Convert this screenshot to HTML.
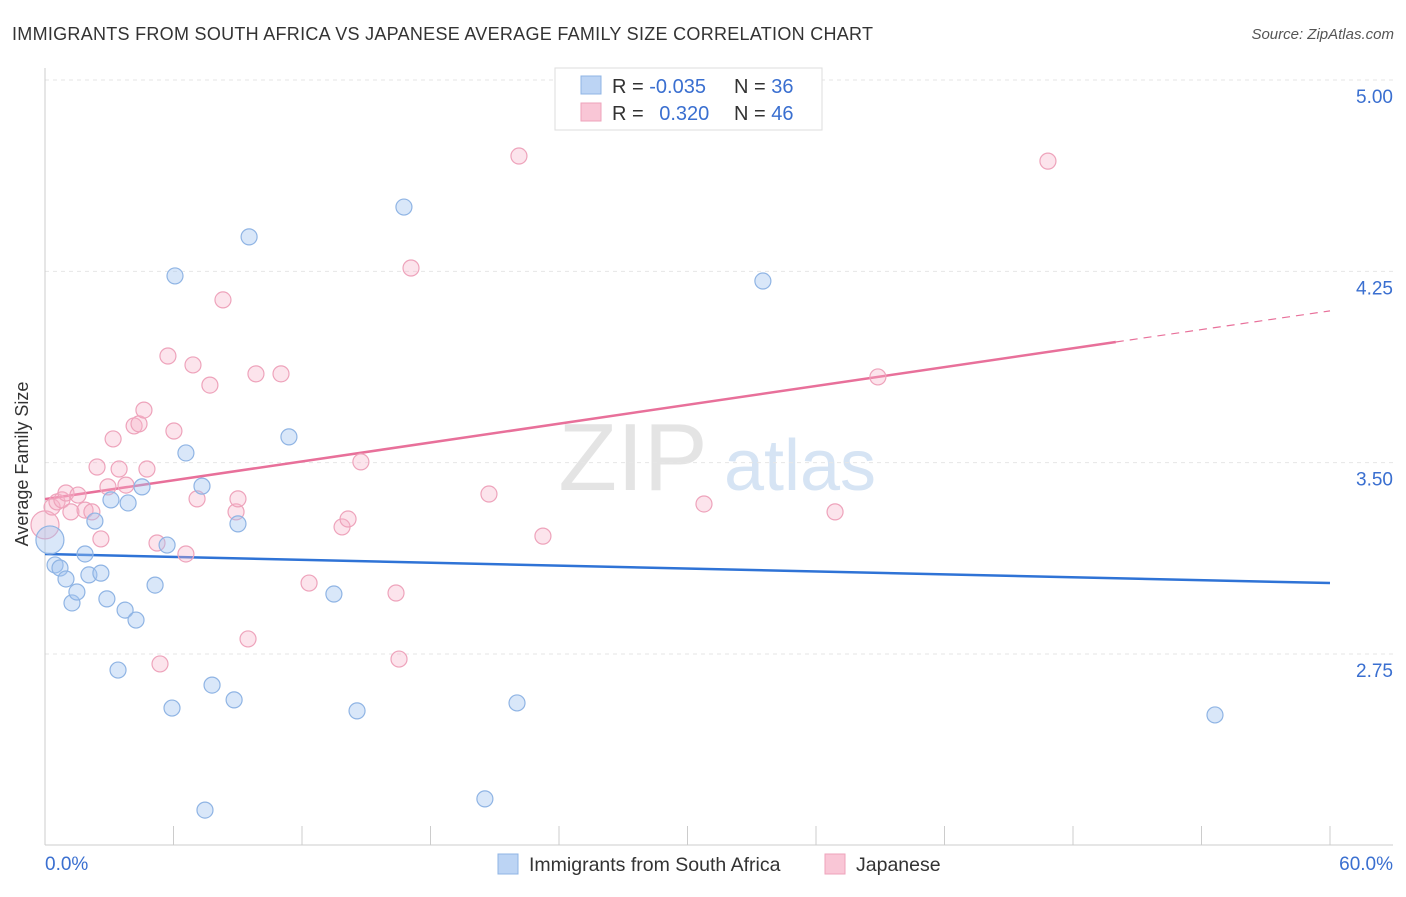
<!DOCTYPE html>
<html><head><meta charset="utf-8"><style>
body{margin:0;background:#fff;font-family:"Liberation Sans",sans-serif;}
svg text{font-family:"Liberation Sans",sans-serif;}
</style></head><body>
<svg id="chart" width="1406" height="892" xmlns="http://www.w3.org/2000/svg">
<text x="12" y="40" font-size="18" fill="#333" textLength="861">IMMIGRANTS FROM SOUTH AFRICA VS JAPANESE AVERAGE FAMILY SIZE CORRELATION CHART</text>
<text x="1394" y="39" font-size="15" fill="#555" font-style="italic" text-anchor="end">Source: ZipAtlas.com</text>
<g>
<text x="633" y="490" font-size="96" fill="#e4e4e4" font-family="Liberation Serif" text-anchor="middle">ZIP</text>
<text x="800" y="490" font-size="72" fill="#d6e4f4" text-anchor="middle">atlas</text>
</g>
<g id="grid"></g>
<g id="axes"></g>
<g id="lines"></g>
<g id="points"></g>
<text x="20" y="456" font-size="18" fill="#333" text-anchor="middle" transform="rotate(-90 28 456)">Average Family Size</text>
<g>
<rect x="555" y="68" width="267" height="62" fill="#fff" stroke="#ddd"/>
<rect x="581" y="76" width="20" height="18" fill="#bcd4f4" stroke="#8fb4e4"/>
<rect x="581" y="103" width="20" height="18" fill="#f9c6d6" stroke="#eea3bb"/>
<text x="612" y="93" font-size="20" fill="#333">R = <tspan fill="#3a6fd0">-0.035</tspan></text>
<text x="734" y="93" font-size="20" fill="#333">N = <tspan fill="#3a6fd0">36</tspan></text>
<text x="612" y="120" font-size="20" fill="#333">R = <tspan fill="#3a6fd0" dx="10">0.320</tspan></text>
<text x="734" y="120" font-size="20" fill="#333">N = <tspan fill="#3a6fd0">46</tspan></text>
</g>
<g>
<rect x="498" y="854" width="20" height="20" fill="#bcd4f4" stroke="#8fb4e4"/>
<text x="529" y="871" font-size="19.5" fill="#333">Immigrants from South Africa</text>
<rect x="825" y="854" width="20" height="20" fill="#f9c6d6" stroke="#eea3bb"/>
<text x="856" y="871" font-size="19.5" fill="#333">Japanese</text>
</g>
</svg>
<script>
const yTicks=[5.00,4.25,3.50,2.75];
const yTickLabels=["5.00","4.25","3.50","2.75"];
const xTickValues=[0,6,12,18,24,30,36,42,48,54,60];
const xLabels=["0.0%","60.0%"];
const blueX=[0.23,0.47,0.70,0.98,1.26,1.49,1.87,2.05,2.33,2.61,2.89,3.08,3.41,3.74,3.88,4.25,4.53,5.14,5.70,5.93,6.07,6.58,7.33,7.80,8.83,9.01,9.53,11.39,13.49,14.57,16.76,20.54,22.04,33.52,54.63,7.47];
const blueY=[3.197,3.099,3.087,3.044,2.950,2.993,3.142,3.060,3.271,3.067,2.966,3.354,2.687,2.922,3.342,2.883,3.405,3.020,3.177,2.538,4.232,3.538,3.408,2.628,2.570,3.260,4.385,3.601,2.985,2.527,4.502,2.182,2.558,4.212,2.511,2.138];
const pinkX=[0,0.33,0.56,0.79,0.98,1.21,1.54,1.87,2.19,2.43,2.61,2.94,3.18,3.46,3.78,4.16,4.39,4.62,4.76,5.23,5.74,6.02,6.58,6.91,7.10,7.70,8.31,8.92,9.01,9.48,9.85,11.02,12.33,13.87,14.15,14.75,16.39,16.53,17.09,20.73,22.13,23.25,30.77,36.89,38.89,46.83,5.37];
const pinkY=[3.256,3.326,3.346,3.354,3.381,3.307,3.373,3.314,3.307,3.483,3.201,3.405,3.593,3.475,3.412,3.644,3.652,3.706,3.475,3.185,3.918,3.624,3.142,3.883,3.358,3.804,4.138,3.307,3.358,2.809,3.848,3.848,3.028,3.248,3.279,3.503,2.989,2.730,4.263,3.377,4.702,3.212,3.338,3.307,3.836,4.682,2.711];
const blueTrend=[[0,3.142],[60,3.028]];
const pinkTrend=[[0,3.357],[50,3.973],[60,4.095]];
const NS="http://www.w3.org/2000/svg";
const X=v=>45+v*(1285/60);
const Y=v=>80+(5-v)*255.1;
function mk(tag,attrs,parent){const e=document.createElementNS(NS,tag);for(const k in attrs)e.setAttribute(k,attrs[k]);document.getElementById(parent).appendChild(e);return e;}
yTicks.forEach((t,i)=>{
 const g=mk('line',{x1:45,x2:1393,y1:Y(t),y2:Y(t),stroke:'#e6e6e6','stroke-dasharray':'4,4'},'grid');
 
 
 const tx=mk('text',{x:1393,y:Y(t)+23,'font-size':19,fill:'#3a6fd0','text-anchor':'end'},'axes');
 tx.textContent=yTickLabels[i];
 
 
});
const ax=mk('line',{x1:45,x2:45,y1:68,y2:845,stroke:'#ccc'},'axes');


const bx=mk('line',{x1:45,x2:1393,y1:845,y2:845,stroke:'#ccc'},'axes');


xTickValues.forEach(v=>{
 const t=mk('line',{x1:X(v),x2:X(v),y1:826,y2:845,stroke:'#ccc'},'axes');
 
 
});
const l0=mk('text',{x:45,y:870,'font-size':19,fill:'#3a6fd0'},'axes');l0.textContent=xLabels[0];


const l1=mk('text',{x:1393,y:870,'font-size':19,fill:'#3a6fd0','text-anchor':'end'},'axes');l1.textContent=xLabels[1];


function pts(xs,ys,fill,stroke,name){
 xs.forEach((x,i)=>{
  const r=(i===0)?14:8;
  const c=mk('circle',{cx:X(x),cy:Y(ys[i]),r:r,fill:fill,stroke:stroke,'stroke-width':1.2},'points');
  
  
 });
}
pts(pinkX,pinkY,'rgba(246,178,200,0.35)','#eea3bb','point-japanese');
pts(blueX,blueY,'rgba(160,196,240,0.4)','#8fb4e4','point-south-africa');
const bl=mk('line',{x1:X(blueTrend[0][0]),y1:Y(blueTrend[0][1]),x2:X(blueTrend[1][0]),y2:Y(blueTrend[1][1]),stroke:'#2f73d6','stroke-width':2.5},'lines');


const pl=mk('line',{x1:X(pinkTrend[0][0]),y1:Y(pinkTrend[0][1]),x2:X(pinkTrend[1][0]),y2:Y(pinkTrend[1][1]),stroke:'#e8709a','stroke-width':2.5},'lines');


const pd=mk('line',{x1:X(pinkTrend[1][0]),y1:Y(pinkTrend[1][1]),x2:X(pinkTrend[2][0]),y2:Y(pinkTrend[2][1]),stroke:'#e8709a','stroke-width':1.2,'stroke-dasharray':'8,6'},'lines');


</script>
</body></html>
